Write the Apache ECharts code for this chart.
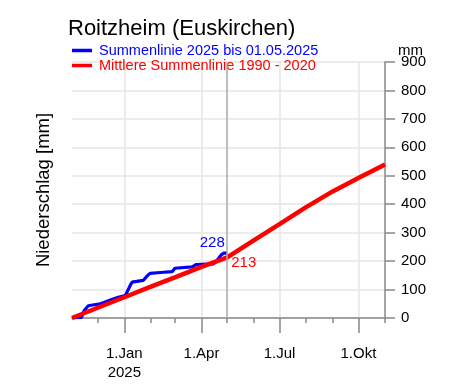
<!DOCTYPE html>
<html>
<head>
<meta charset="utf-8">
<script src="https://cdn.jsdelivr.net/npm/echarts@6/dist/echarts.min.js"></script>
<style>html,body{margin:0;padding:0;background:#fff;}#c{width:450px;height:386px;}</style>
</head>
<body>
<div id="c"></div>
<script>
// ---- data ----
var titleText = 'Roitzheim (Euskirchen)';
var seriesNames = ['Summenlinie 2025 bis 01.05.2025', 'Mittlere Summenlinie 1990 - 2020'];
var blueDates = ['2024-11-01','2024-11-12','2024-11-15','2024-11-20','2024-12-04','2024-12-09','2024-12-15','2024-12-25','2025-01-02','2025-01-04','2025-01-08','2025-01-10','2025-01-23','2025-01-28','2025-01-31','2025-02-12','2025-02-26','2025-03-01','2025-03-21','2025-03-26','2025-04-15','2025-04-19','2025-04-24','2025-04-27','2025-05-01'];
var blueValues = [0,2,25,43,50,55,62,73,79,90,115,126,132,149,157,160,163,175,180,188,190,202,222,228,228];
var redDates = ['2024-11-01','2024-12-01','2025-01-01','2025-02-01','2025-03-01','2025-04-01','2025-05-01','2025-06-01','2025-07-01','2025-08-01','2025-09-01','2025-10-01','2025-11-01'];
var redValues = [0,36,73,110,143,180,213,273,330,390,445,492,540];
var xRange = ['2024-11-01','2025-11-01'];
var minorTickDates = ['2024-12-01','2025-01-01','2025-02-01','2025-03-01','2025-04-01','2025-05-01','2025-06-01','2025-07-01','2025-08-01','2025-09-01','2025-10-01','2025-11-01'];
var majorTickDates = ['2025-01-01','2025-04-01','2025-07-01','2025-10-01'];
var majorTickLabels = ['1.Jan\n2025','1.Apr','1.Jul','1.Okt'];
var markerDate = '2025-05-01';
var yTicks = {min: 0, max: 900, interval: 100};

function ts(s){ return Date.UTC(+s.slice(0,4), +s.slice(5,7)-1, +s.slice(8,10)); }
var FONT = '"Liberation Sans", Arial, sans-serif';

var blueData = blueDates.map(function(d,i){ return [ts(d), blueValues[i]]; });
var redData = redDates.map(function(d,i){ return [ts(d), redValues[i]]; });
var blueLast = blueData[blueData.length-1];
var redAtMarker = redData[redDates.indexOf(markerDate)];

var chart = echarts.init(document.getElementById('c'), null, {renderer:'canvas'});
chart.setOption({
  animation: false,
  backgroundColor: '#fff',
  title: {text: titleText, left: 63, top: 13, padding:[5,5,5,5], textStyle:{fontFamily:FONT, fontSize:22, fontWeight:'normal', color:'#000'}},
  legend: {
    left: 72, top: 43, orient:'vertical', itemGap: 0, itemWidth: 20, itemHeight: 3.5,
    icon: 'rect', padding: 0,
    data: [
      {name: seriesNames[0], textStyle:{color:'#0000ff'}},
      {name: seriesNames[1], textStyle:{color:'#ff0000'}}
    ],
    textStyle: {fontFamily:FONT, fontSize:14.5, padding:[0,0,0,2]}
  },
  grid: {left: 72, right: 65, top: 62, bottom: 68, containLabel:false},
  xAxis: [
    {type:'value', min: ts(xRange[0]), max: ts(xRange[1]),
      axisLine:{show:true, onZero:false, lineStyle:{color:'#888', width:1.5}},
      axisTick:{show:true, length:5, lineStyle:{color:'#888', width:1.5}, customValues: minorTickDates.map(ts)},
      axisLabel:{show:false},
      splitLine:{show:false}},
    {type:'value', min: ts(xRange[0]), max: ts(xRange[1]), position:'bottom',
      axisLine:{show:false, onZero:false},
      axisTick:{show:true, length:15, lineStyle:{color:'#888', width:1.5}, customValues: majorTickDates.map(ts)},
      axisLabel:{show:true, margin:26, color:'#000', fontFamily:FONT, fontSize:15, lineHeight:19,
        customValues: majorTickDates.map(ts),
        formatter: function(v){ for (var i=0;i<majorTickDates.length;i++){ if (Math.abs(ts(majorTickDates[i])-v) < 86400000) return majorTickLabels[i]; } return ''; }},
      splitLine:{show:true, lineStyle:{color:'#e6e6e6', width:1.5}}}
  ],
  yAxis: [
    {type:'value', position:'right', min:yTicks.min, max:yTicks.max, interval:yTicks.interval,
      name:'mm', nameLocation:'end', nameGap:11, nameMoveOverlap:false,
      nameTextStyle:{fontFamily:FONT, fontSize:15, color:'#000', align:'left', verticalAlign:'middle', padding:[0,0,0,13]},
      axisLine:{show:true, lineStyle:{color:'#888', width:1.5}},
      axisTick:{show:true, inside:false, length:10, lineStyle:{color:'#888', width:1.5}},
      axisLabel:{margin:16, color:'#000', fontFamily:FONT, fontSize:15},
      splitLine:{show:true, lineStyle:{color:'#e6e6e6', width:1.5}}},
    {type:'value', position:'left', min:yTicks.min, max:yTicks.max,
      name:'Niederschlag [mm]', nameLocation:'middle', nameGap:19,
      nameTextStyle:{fontFamily:FONT, fontSize:18.5, color:'#000'},
      axisLine:{show:false}, axisTick:{show:false}, axisLabel:{show:false}, splitLine:{show:false}}
  ],
  series: [
    {name: seriesNames[0], type:'line', xAxisIndex:0, yAxisIndex:0, data: blueData,
      showSymbol:false, symbol:'none', color:'#0000ff', lineStyle:{color:'#0000ff', width:3.2},
      markLine:{silent:true, symbol:'none', label:{show:false}, lineStyle:{color:'#aaa', width:1.5, type:'solid'},
        data:[{xAxis: ts(markerDate)}]},
      markPoint:{silent:true, symbol:'circle', symbolSize:0,
        label:{show:true, position:'top', distance:3, offset:[-15,0], color:'#0000ff', fontSize:15, fontFamily:FONT, formatter: function(){return String(blueLast[1]);}},
        data:[{coord: blueLast}]}},
    {name: seriesNames[1], type:'line', xAxisIndex:0, yAxisIndex:0, data: redData,
      showSymbol:false, symbol:'none', color:'#ff0000', lineStyle:{color:'#ff0000', width:4.5},
      markPoint:{silent:true, symbol:'circle', symbolSize:0,
        label:{show:true, position:'right', distance:4, offset:[0,5], color:'#ff0000', fontSize:15, fontFamily:FONT, formatter: function(){return String(redAtMarker[1]);}},
        data:[{coord: redAtMarker}]}}
  ]
});
</script>
</body>
</html>
